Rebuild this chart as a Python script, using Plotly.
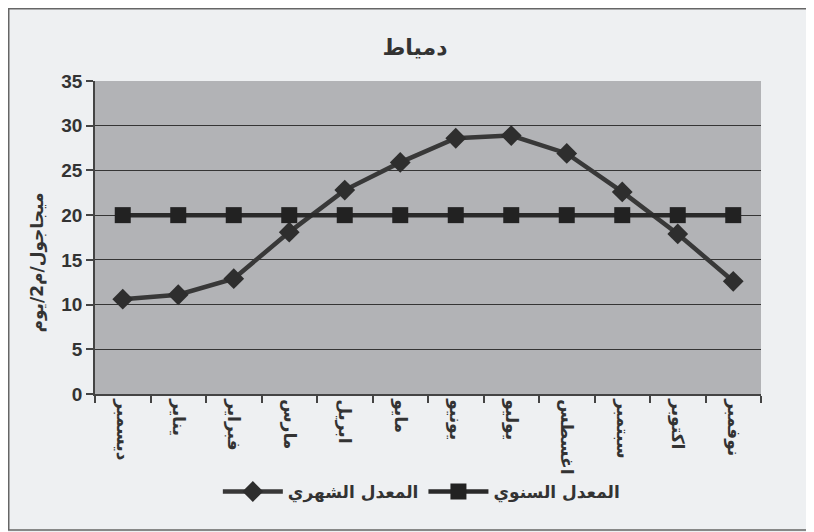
import plotly.graph_objects as go

months = ["ديسمبر", "يناير", "فبراير", "مارس", "ابريل", "مايو",
          "يونيو", "يوليو", "اغسطس", "سبتمبر", "اكتوبر", "نوفمبر"]
monthly = [10.6, 11.1, 12.9, 18.1, 22.8, 25.9, 28.6, 28.9, 26.9, 22.6, 17.9, 12.6]
annual = [20.0] * 12
y_ticks = [0, 5, 10, 15, 20, 25, 30, 35]

title_text = "دمياط"
y_title = "ميجاجول/م2/يوم"
name_monthly = "المعدل الشهري"
name_annual = "المعدل السنوي"

AR = "DejaVu Sans, Liberation Sans, sans-serif"
NUM = "Liberation Sans, Arial, sans-serif"
TXT = "#333333"

fig = go.Figure()
fig.add_trace(go.Scatter(
    x=months, y=monthly, name=name_monthly, mode="lines+markers",
    line=dict(color="#383838", width=4.5),
    marker=dict(symbol="diamond", size=16, color="#2e2e2e"),
))
fig.add_trace(go.Scatter(
    x=months, y=annual, name=name_annual, mode="lines+markers",
    line=dict(color="#2a2a2a", width=4.5),
    marker=dict(symbol="square", size=16, color="#222222"),
))

fig.update_layout(
    width=814, height=532,
    margin=dict(l=87, r=61, t=73, b=146),
    paper_bgcolor="#eef0f2",
    plot_bgcolor="#b2b3b6",
    title=dict(text=title_text, x=0.5, xanchor="center",
               y=0.927, yanchor="middle",
               font=dict(family=AR, size=22, color=TXT, weight="bold")),
    showlegend=True,
    legend=dict(orientation="h", x=0.49, xanchor="center", y=-0.313, yanchor="middle",
                font=dict(family=AR, size=17, color=TXT, weight="bold"),
                bgcolor="rgba(0,0,0,0)", itemwidth=60),
    xaxis=dict(
        type="category", tickangle=90, tickson="boundaries",
        ticks="outside", ticklen=7, tickcolor="#444444", tickwidth=1.5,
        showline=True, linecolor="#444444", linewidth=1.5,
        showgrid=False, automargin=False,
        tickfont=dict(family=AR, size=17, color=TXT, weight="bold"),
        range=[-0.5, 11.5],
    ),
    yaxis=dict(
        range=[0, 35], tickvals=y_ticks, automargin=False,
        ticks="outside", ticklen=7, tickcolor="#444444", tickwidth=1.5,
        showline=True, linecolor="#444444", linewidth=1.5,
        showgrid=True, gridcolor="#353535", gridwidth=1.4,
        zeroline=False,
        tickfont=dict(family=NUM, size=19, color=TXT, weight="bold"),
    ),
    annotations=[dict(text=y_title, xref="paper", yref="paper",
                      x=-0.0856, y=0.42, xanchor="center", yanchor="middle",
                      textangle=-90, showarrow=False,
                      font=dict(family=AR, size=17, color=TXT, weight="bold"))],
    shapes=[dict(type="rect", xref="paper", yref="paper",
                 x0=-0.1295, x1=1.0766, y0=-0.4345, y1=1.2308,
                 line=dict(color="#666666", width=1.5), layer="below")],
)

fig.write_html("out.html")
